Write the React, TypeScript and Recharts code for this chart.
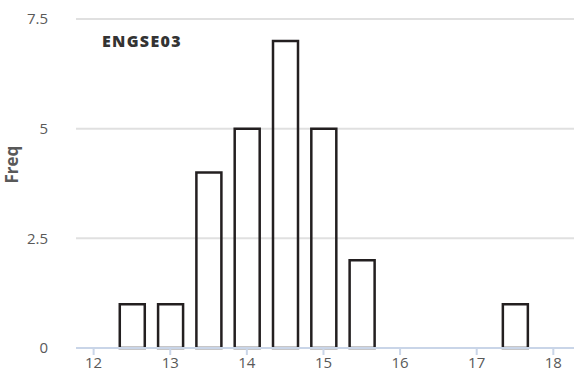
import React from "react";
import { BarChart, Bar, XAxis, YAxis, CartesianGrid, Label } from "recharts";

// histogram bins (bin centres) and counts
const bins = [12.5, 13, 13.5, 14, 14.5, 15, 15.5, 17.5];
const freq = [1, 1, 4, 5, 7, 5, 2, 1];
const xTicks = [12, 13, 14, 15, 16, 17, 18];
const yTicks = [0, 2.5, 5, 7.5];

const data = bins.map((b, i) => ({ x: b, freq: freq[i] }));

const FONT = "'Open Sans', 'Noto Sans', sans-serif";

export default function App() {
  return (
    <div style={{ position: "absolute", left: 0, top: 0, width: 574, height: 381, fontFamily: FONT }}>
      <BarChart width={574} height={381} data={data} margin={{ top: 19, right: 0, bottom: 8, left: 0 }}>
        <CartesianGrid vertical={false} stroke="#e0e0e0" strokeWidth={2} />
        <XAxis
          dataKey="x"
          type="number"
          domain={[11.77, 18.27]}
          ticks={xTicks}
          allowDataOverflow
          axisLine={{ stroke: "#c9d5e8", strokeWidth: 2 }}
          tickLine={{ stroke: "#c9d5e8", strokeWidth: 2 }}
          tickSize={7}
          tick={{ fill: "#595959", fontSize: 15, fontFamily: FONT }}
          height={25}
        />
        <YAxis
          type="number"
          domain={[0, 7.5]}
          ticks={yTicks}
          axisLine={false}
          tickLine={false}
          width={76}
          tickMargin={22}
          tick={{ fill: "#595959", fontSize: 15, fontFamily: FONT }}
        >
          <Label
            value="Freq"
            angle={-90}
            position="insideLeft"
            offset={12}
            style={{ fill: "#595959", fontSize: 17, fontWeight: 700, fontFamily: FONT }}
          />
        </YAxis>
        <Bar
          dataKey="freq"
          barSize={25}
          fill="none"
          stroke="#231f20"
          strokeWidth={2.5}
          isAnimationActive={false}
        />
      </BarChart>
      <div
        style={{
          position: "absolute",
          left: 102,
          top: 30,
          fontSize: 16,
          fontWeight: 800,
          letterSpacing: 1.3,
          color: "#333333",
          fontFamily: FONT,
        }}
      >
        ENGSE03
      </div>
    </div>
  );
}
